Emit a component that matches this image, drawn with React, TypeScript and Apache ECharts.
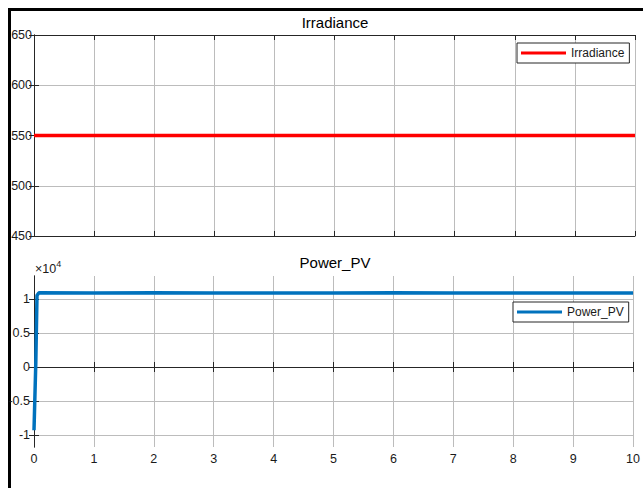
import React, { useEffect, useRef } from "react";
import * as echarts from "echarts";

const timeTicks = [0, 1, 2, 3, 4, 5, 6, 7, 8, 9, 10];
const irradianceData: [number, number][] = [
  [0, 550],
  [10, 550],
];
const powerData: [number, number][] = [
  [0, -9300],
  [0.03, 600],
  [0.05, 10500],
  [0.08, 10900],
  [1, 10880],
  [2, 10900],
  [3, 10870],
  [4, 10890],
  [5, 10880],
  [6, 10900],
  [7, 10870],
  [8, 10890],
  [9, 10880],
  [10, 10890],
];
const powerTicks = [-10000, -5000, 0, 5000, 10000];
const irrTicks = [450, 500, 550, 600, 650];

const FONT = "Liberation Sans";
const AX = "#262626";
const GRID = "#bcbcbc";

export default function App() {
  const ref = useRef<HTMLDivElement>(null);
  useEffect(() => {
    if (!ref.current) return;
    const chart = echarts.init(ref.current, undefined, { renderer: "svg" });
    const tickIn = { show: true, inside: true, length: 5, lineStyle: { color: AX } };
    const axLine = { show: true, lineStyle: { color: AX, width: 1 } };
    const xBase = (grid: number, pos: string, labels: boolean, split: boolean) => ({
      type: "value",
      gridIndex: grid,
      position: pos,
      min: timeTicks[0],
      max: timeTicks[timeTicks.length - 1],
      interval: 1,
      axisLine: axLine,
      axisTick: tickIn,
      splitLine: { show: split, lineStyle: { color: GRID, width: 1 } },
      axisLabel: {
        show: labels,
        color: "#1a1a1a",
        fontSize: 12.5,
        fontFamily: FONT,
        margin: 5,
      },
    });
    chart.setOption({
      animation: false,
      backgroundColor: "#fff",
      textStyle: { fontFamily: FONT },
      title: [
        {
          text: "Irradiance",
          left: 335,
          top: 15,
          textAlign: "center",
          padding: 0,
          textStyle: { fontSize: 15, fontWeight: "normal", color: "#000", fontFamily: FONT },
        },
        {
          text: "Power_PV",
          left: 335,
          top: 255,
          textAlign: "center",
          padding: 0,
          textStyle: { fontSize: 15, fontWeight: "normal", color: "#000", fontFamily: FONT },
        },
      ],
      legend: [
        {
          data: ["Irradiance"],
          left: 517,
          top: 43,
          orient: "vertical",
          padding: [4, 5, 4, 4],
          borderColor: AX,
          borderWidth: 1,
          borderRadius: 0,
          backgroundColor: "#fff",
          itemWidth: 45,
          itemHeight: 3,
          icon: "rect",
          textStyle: { fontSize: 12, color: "#1a1a1a", fontFamily: FONT },
        },
        {
          data: ["Power_PV"],
          left: 513,
          top: 302,
          orient: "vertical",
          padding: [4, 5, 4, 4],
          borderColor: AX,
          borderWidth: 1,
          borderRadius: 0,
          backgroundColor: "#fff",
          itemWidth: 45,
          itemHeight: 3,
          icon: "rect",
          textStyle: { fontSize: 12, color: "#1a1a1a", fontFamily: FONT },
        },
      ],
      grid: [
        { left: 34, right: 8, top: 35, height: 201 },
        { left: 34, right: 8, top: 276, height: 171 },
      ],
      xAxis: [
        xBase(0, "bottom", false, true),
        xBase(0, "top", false, false),
        xBase(1, "bottom", true, true),
        xBase(1, "top", false, false),
      ],
      yAxis: [
        {
          type: "value",
          gridIndex: 0,
          position: "left",
          min: irrTicks[0],
          max: irrTicks[irrTicks.length - 1],
          interval: 50,
          axisLine: axLine,
          axisTick: tickIn,
          splitLine: { show: true, lineStyle: { color: GRID } },
          axisLabel: { color: "#1a1a1a", fontSize: 12.5, fontFamily: FONT, margin: 2, showMinLabel: true, showMaxLabel: true },
        },
        {
          type: "value",
          gridIndex: 0,
          position: "right",
          min: irrTicks[0],
          max: irrTicks[irrTicks.length - 1],
          interval: 50,
          axisLine: axLine,
          axisTick: tickIn,
          splitLine: { show: false },
          axisLabel: { show: false },
        },
        {
          type: "value",
          gridIndex: 1,
          position: "left",
          min: -11760,
          max: 13380,
          axisLine: axLine,
          axisTick: { ...tickIn, customValues: powerTicks },
          splitLine: { show: true, lineStyle: { color: GRID } },
          axisLabel: {
            color: "#1a1a1a",
            fontSize: 12.5,
            fontFamily: FONT,
            margin: 4,
            customValues: powerTicks,
            formatter: (v: number) => String(v / 10000),
          },
        },
        {
          type: "value",
          gridIndex: 1,
          position: "right",
          min: -11760,
          max: 13380,
          axisLine: axLine,
          axisTick: { ...tickIn, customValues: powerTicks },
          splitLine: { show: false },
          axisLabel: { show: false },
        },
      ],
      series: [
        {
          name: "Irradiance",
          type: "line",
          xAxisIndex: 0,
          yAxisIndex: 0,
          data: irradianceData,
          showSymbol: false,
          color: "#ff0000",
          lineStyle: { width: 3.5, color: "#ff0000" },
        },
        {
          name: "Power_PV",
          type: "line",
          xAxisIndex: 2,
          yAxisIndex: 2,
          data: powerData,
          showSymbol: false,
          color: "#0072BD",
          lineStyle: { width: 3.5, color: "#0072BD" },
        },
      ],
      graphic: [
        {
          type: "text",
          left: 35,
          top: 259,
          style: {
            text: "{a|×10}{b|4}",
            rich: {
              a: { fontSize: 12.5, fontFamily: FONT, fill: "#1a1a1a", verticalAlign: "bottom" },
              b: { fontSize: 9, fontFamily: FONT, fill: "#1a1a1a", verticalAlign: "top", padding: [0, 0, 7, 0] },
            },
          },
        },
        {
          type: "line",
          shape: { x1: 9.5, y1: 8, x2: 9.5, y2: 488 },
          style: { stroke: "#000", lineWidth: 3 },
        },
        {
          type: "line",
          shape: { x1: 8, y1: 9.5, x2: 643, y2: 9.5 },
          style: { stroke: "#000", lineWidth: 3 },
        },
      ],
    });
    return () => chart.dispose();
  }, []);
  return (
    <div
      ref={ref}
      style={{ position: "absolute", left: 0, top: 0, width: 643, height: 488 }}
    />
  );
}
